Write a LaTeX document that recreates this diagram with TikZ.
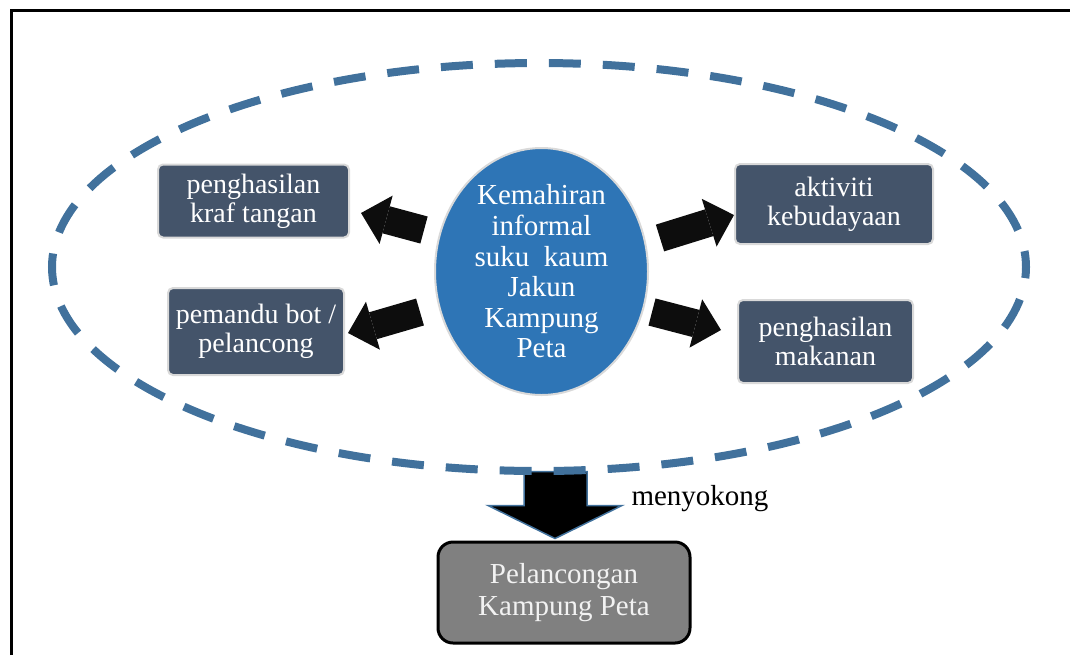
\documentclass[tikz,border=0pt]{standalone}
\usepackage{fontspec}
\setmainfont{Liberation Serif}
\usetikzlibrary{calc}
\usetikzlibrary{arrows.meta}
\usetikzlibrary{shapes.geometric}
\definecolor{ringblue}{RGB}{65,113,156}
\definecolor{coreblue}{RGB}{46,117,182}
\definecolor{slate}{RGB}{68,84,106}
\definecolor{goalgray}{RGB}{128,128,128}
\definecolor{edgegray}{RGB}{217,217,217}
\definecolor{inkblack}{RGB}{13,13,13}
\tikzstyle{skillbox}=[draw=edgegray,line width=1pt,fill=slate,rounded corners=2.5pt,text=white,align=center,inner sep=0pt,font=\fontsize{14pt}{14.5pt}\selectfont]
\tikzstyle{core}=[ellipse,draw=edgegray,line width=1pt,fill=coreblue,text=white,align=center,inner sep=0pt,font=\fontsize{14.5pt}{15.3pt}\selectfont]
\tikzstyle{goal}=[draw=black,line width=1.5pt,fill=goalgray,rounded corners=7.5pt,text=white!95!black,align=center,inner sep=0pt,font=\fontsize{14.5pt}{16pt}\selectfont]
\tikzstyle{fatarrow}=[draw=inkblack,line width=14pt,-{Triangle[width=25pt,length=13pt,line width=0pt]}]
\tikzstyle{ring}=[ellipse,draw=ringblue,line width=4pt,dash pattern=on 16pt off 11pt,dash phase=8pt,inner sep=0pt]
\tikzstyle{push}=[draw=ringblue,line width=0.75pt,fill=black,line join=miter]

\begin{document}
\begin{tikzpicture}[x=0.5pt,y=-0.5pt]
  \useasboundingbox (0,0) rectangle (1070,655);
  \draw[line width=1.25pt] (11.5,655) -- (11.5,10.5) -- (1070,10.5); % frame, cut at right and bottom

  % skills round the centre
  \node[core,minimum width=106.5pt,minimum height=123.5pt] (kem) at (541.5,271.5) {Kemahiran\\informal\\suku\ \ kaum\\Jakun\\Kampung\\Peta};
  \node[skillbox,minimum width=95.5pt,minimum height=36.5pt] (kraf) at (253.5,201) {penghasilan\\kraf tangan};
  \node[skillbox,minimum width=88pt,minimum height=43.5pt] (bot) at (256,331.5) {pemandu bot /\\pelancong};
  \node[skillbox,minimum width=99pt,minimum height=40pt] (budaya) at (834,204) {aktiviti\\kebudayaan};
  \node[skillbox,minimum width=87.5pt,minimum height=41.5pt] (makan) at (825.5,341.5) {penghasilan\\makanan};

  \draw[fatarrow] ($(kem.west)+(-10,-41.5)$) -- ($(kraf.east)+(11,12)$);
  \draw[fatarrow] ($(kem.west)+(-14,40.5)$) -- ($(bot.east)+(3,1.5)$);
  \draw[fatarrow] ($(kem.east)+(11,-33.5)$) -- ($(budaya.west)+(0,11)$);
  \draw[fatarrow] ($(kem.east)+(3,40.5)$) -- ($(makan.west)+(-16,-11.5)$);

  % result
  \node[goal,minimum width=126pt,minimum height=50.5pt] (pel) at (564,592.5) {Pelancongan\\Kampung Peta};
  \draw[push] ($(pel.north)+(-9,-2)$) -- ++(-67,-33) -- ++(36,0) -- ++(0,-34) -- ++(63,0) -- ++(0,34) -- ++(35,0) -- cycle;
  \node[font=\fontsize{14.5pt}{16pt}\selectfont] (sokong) at (700,499) {menyokong};

  \node[ring,minimum width=487pt,minimum height=204pt] (lingkar) at (539,267) {};
\end{tikzpicture}
\end{document}
